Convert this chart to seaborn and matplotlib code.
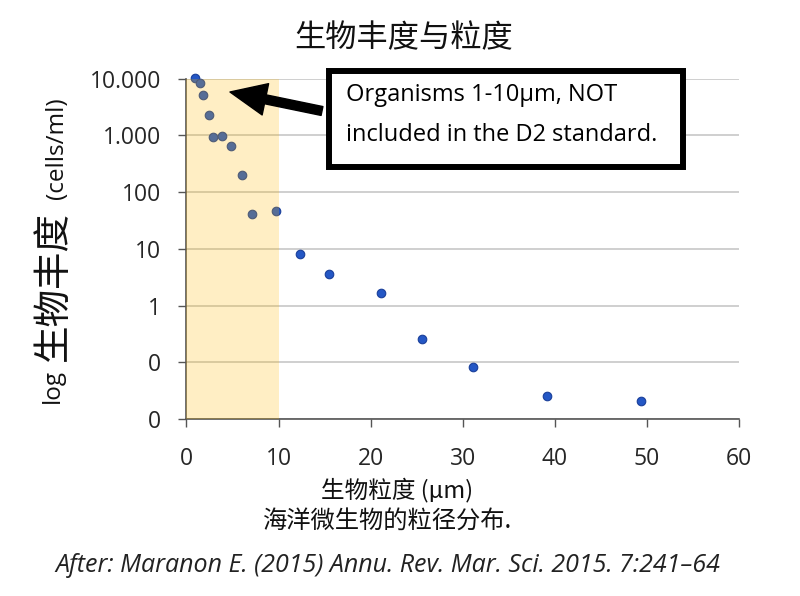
import numpy as np
import pandas as pd
import matplotlib
matplotlib.use("Agg")
import matplotlib.pyplot as plt
from matplotlib.patches import Rectangle
import seaborn as sns

# data (size in um, abundance in cells/ml)
size_um = [0.93, 1.48, 1.84, 2.49, 2.93, 3.83, 4.84, 6.07, 7.09, 9.73,
           12.37, 15.49, 21.13, 25.61, 31.12, 39.15, 49.4]
abundance = [10500, 8300, 5200, 2300, 935, 980, 640, 203, 41, 47,
             8.2, 3.66, 1.65, 0.26, 0.083, 0.0253, 0.021]
y_ticks = [10000, 1000, 100, 10, 1, 0.1, 0.01]
y_labels = ["10.000", "1.000", "100", "10", "1", "0", "0"]
x_ticks = [0, 10, 20, 30, 40, 50, 60]

df = pd.DataFrame({"size": size_um, "abundance": abundance})

sns.set_theme(style="white")
plt.rcParams["font.family"] = ["Open Sans", "Noto Sans CJK SC", "DejaVu Sans"]
cjk = ["Noto Sans CJK SC", "Open Sans"]

W, H = 800, 596
fig = plt.figure(figsize=(8, 5.96), dpi=100)
ax = fig.add_axes([186.4 / W, 1 - 419 / H, (739 - 186.4) / W, (419 - 78.8) / H])

sns.scatterplot(data=df, x="size", y="abundance", ax=ax, s=38,
                color="#2457C5", edgecolor="#1A3F9A", linewidth=0.8,
                clip_on=False, zorder=3)
ax.set_yscale("log")
ax.set_ylim(0.01, 10000)
ax.set_xlim(0, 60)

# shaded 1-10 um band, drawn over the points
ax.axvspan(0, 10, color="#FFB800", alpha=0.23, lw=0, zorder=4)

ax.set_yticks(y_ticks)
ax.set_yticklabels(y_labels)
ax.yaxis.set_minor_locator(matplotlib.ticker.NullLocator())
ax.set_xticks(x_ticks)
ax.tick_params(axis="both", which="major", labelsize=16.5, length=6, width=1,
               color="#555555", direction="out", bottom=True, left=True)
ax.tick_params(axis="y", pad=12)
ax.tick_params(axis="x", pad=14)
ax.yaxis.grid(True, color="#CFCFCF", lw=1.4)
ax.xaxis.grid(False)
for s in ["top", "right"]:
    ax.spines[s].set_visible(False)
for s in ["left", "bottom"]:
    ax.spines[s].set_color("#555555")
    ax.spines[s].set_linewidth(1.2)
ax.set_xlabel("")
ax.set_ylabel("")

# titles and labels
fig.text(404 / W, 1 - 38 / H, "生物丰度与粒度", family=cjk, fontsize=22.5,
         ha="center", va="center", color="#111111")
fig.text(397 / W, 1 - 490 / H, "生物粒度 (µm)", family=cjk, fontsize=17,
         ha="center", va="center", color="#111111")
fig.text(387 / W, 1 - 521 / H, "海洋微生物的粒径分布.", family=cjk, fontsize=17.5,
         ha="center", va="center", color="#111111")
fig.text(388 / W, 1 - 565 / H,
         "After: Maranon E. (2015) Annu. Rev. Mar. Sci. 2015. 7:241\u201364",
         fontsize=18, style="italic", ha="center", va="center", color="#222222")

# y label in three pieces with different sizes
fig.text(53 / W, 1 - 386 / H, "log", fontsize=17.5, rotation=90,
         ha="center", va="center", color="#111111")
fig.text(53 / W, 1 - 286 / H, "生物丰度", family=cjk, fontsize=27, rotation=90,
         ha="center", va="center", color="#111111")
fig.text(57 / W, 1 - 148 / H, "(cells/ml)", fontsize=17.5, rotation=90,
         ha="center", va="center", color="#111111")

# callout box
box = Rectangle((329 / W, 1 - 167 / H), (683 - 329) / W, (167 - 71) / H,
                transform=fig.transFigure, fill=True, fc="white", ec="black",
                lw=4.3, zorder=10)
fig.patches.append(box)
fig.text(346 / W, 1 - 95 / H, "Organisms 1-10µm, NOT", fontsize=17,
         ha="left", va="center", color="black", zorder=11)
fig.text(346 / W, 1 - 135 / H, "included in the D2 standard.", fontsize=17,
         ha="left", va="center", color="black", zorder=11)

ax.annotate("", xy=(230 / W, 1 - 92 / H), xytext=(322 / W, 1 - 111 / H),
            xycoords="figure fraction", textcoords="figure fraction",
            arrowprops=dict(arrowstyle="simple,head_length=2.6,head_width=2.3,tail_width=0.65",
                            fc="black", ec="black", mutation_scale=10,
                            shrinkA=0, shrinkB=0),
            zorder=12)

fig.savefig("out.png", dpi=100)
